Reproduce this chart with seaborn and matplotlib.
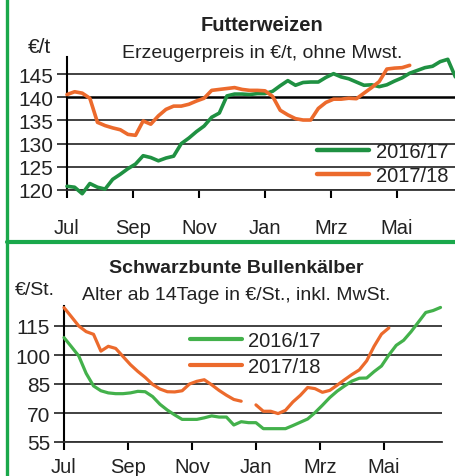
import numpy as np
import pandas as pd
import seaborn as sns
import matplotlib.pyplot as plt
from matplotlib.lines import Line2D

sns.set_theme(style='white')
plt.rcParams['font.family'] = ['Liberation Sans', 'DejaVu Sans']

# month labels and where they sit on the week axis (weeks since 1 July)
months = ['Jul', 'Sep', 'Nov', 'Jan', 'Mrz', 'Mai']
month_weeks = [0, 8.67, 17.33, 26, 34.67, 43.33]
seasons = ['2016/17', '2017/18']

# Futterweizen, Erzeugerpreis in EUR/t (weekly)
weizen_1617 = [120.8, 120.6, 119.2, 121.4, 120.6, 120.2, 122.3, 123.4, 124.6, 125.6,
               127.4, 127.0, 126.3, 126.9, 127.3, 130.0, 131.2, 132.6, 133.8, 135.7,
               136.6, 140.3, 140.7, 140.7, 140.6, 140.8, 140.8, 141.3, 142.5, 143.6,
               142.6, 143.2, 143.3, 143.3, 144.3, 145.1, 144.4, 144.0, 143.3, 142.6,
               142.7, 142.3, 142.7, 143.5, 144.2, 145.2, 145.8, 146.4, 146.7, 147.7,
               148.2, 144.4]
weizen_1718 = [140.6, 141.2, 140.9, 139.8, 134.6, 133.9, 133.4, 133.0, 132.0, 131.8,
               134.9, 134.2, 136.0, 137.4, 138.1, 138.1, 138.5, 139.2, 139.8, 141.5,
               141.7, 141.9, 142.1, 141.7, 141.5, 141.5, 141.4, 140.2, 137.2, 136.2,
               135.4, 135.1, 135.1, 137.6, 138.9, 139.6, 139.6, 139.8, 139.7, 140.9,
               142.1, 143.4, 146.1, 146.3, 146.4, 146.9]
weizen_ticks = [120, 125, 130, 135, 140, 145]

# Schwarzbunte Bullenkaelber, EUR/St. (weekly, one missing week)
kalb_1617 = [109.0, 104.3, 99.5, 90.5, 84.0, 81.5, 80.4, 80.0, 80.0, 80.4,
             81.2, 81.0, 78.5, 74.5, 71.5, 69.0, 66.7, 66.7, 66.7, 67.5,
             68.5, 67.9, 67.9, 63.8, 65.5, 65.0, 65.0, 61.9, 61.9, 61.9,
             61.9, 63.5, 65.2, 66.9, 70.2, 74.0, 78.0, 81.3, 84.0, 86.5,
             88.0, 88.1, 91.4, 94.3, 100.0, 105.0, 107.6, 112.0, 117.0, 122.0,
             123.0, 124.6]
kalb_1718 = [124.5, 119.8, 115.0, 112.1, 110.7, 102.0, 104.5, 103.4, 99.2, 95.0,
             91.5, 88.4, 84.8, 82.4, 81.0, 80.9, 81.5, 85.0, 86.4, 87.2,
             84.6, 81.7, 79.2, 77.0, 76.1, np.nan, 74.2, 70.9, 70.9, 69.7,
             71.4, 75.7, 79.1, 83.2, 82.6, 80.7, 81.7, 84.4, 87.2, 89.9,
             92.3, 97.0, 104.5, 110.8, 114.0]
kalb_ticks = [55, 70, 85, 100, 115]

ORANGE = '#ec6a2c'
GREEN_DARK = '#1f9142'
GREEN_LIGHT = '#43b14b'
FRAME = '#1aa84b'
TEXT = '#222222'


def to_long(values_by_season):
    parts = []
    for name, vals in values_by_season.items():
        d = pd.DataFrame({'Woche': np.arange(len(vals)), 'Preis': vals})
        d['Saison'] = name
        # a gap in the data starts a new line segment
        d['Abschnitt'] = d['Preis'].isna().cumsum()
        parts.append(d.dropna())
    return pd.concat(parts, ignore_index=True)


def draw_panel(ax, df, palette, ticks, ylim, xlim, lw, xpad, ypad, strong=None):
    sns.lineplot(data=df, x='Woche', y='Preis', hue='Saison', units='Abschnitt',
                 estimator=None, palette=palette, linewidth=lw, legend=False,
                 ax=ax, clip_on=False, zorder=3)
    ax.set_xlim(*xlim)
    ax.set_ylim(*ylim)
    ax.set_xticks(month_weeks, months, fontsize=14.5, color=TEXT)
    ax.set_yticks(ticks, [str(t) for t in ticks], fontsize=15, color=TEXT)
    ax.set_xlabel('')
    ax.set_ylabel('')
    ax.set_axisbelow(True)
    ax.yaxis.grid(True, color='#333333', linewidth=1.3)
    ax.xaxis.grid(False)
    if strong is not None:
        g = ax.get_ygridlines()[ticks.index(strong)]
        g.set_color('black')
        g.set_linewidth(1.8)
    for s in ['top', 'right']:
        ax.spines[s].set_visible(False)
    ax.spines['left'].set_color('black')
    ax.spines['left'].set_linewidth(1.5)
    ax.spines['bottom'].set_color('#333333')
    ax.spines['bottom'].set_linewidth(1.3)
    ax.tick_params(axis='y', left=True, length=7, width=1.3, color='#333333', pad=ypad)
    ax.tick_params(axis='x', bottom=True, length=6, width=1.5, color='black', pad=xpad)
    ax.patch.set_alpha(0)


fig = plt.figure(figsize=(4.56, 4.77), dpi=100)
fig.patch.set_facecolor('white')

# --- Futterweizen ---
ax1 = fig.add_axes([67 / 456, 286 / 477, 389 / 456, 133 / 477])
draw_panel(ax1, to_long({seasons[0]: weizen_1617, seasons[1]: weizen_1718}),
           [GREEN_DARK, ORANGE], weizen_ticks, (120, 148.7), (0, 51.08),
           lw=2.6, xpad=14, ypad=3, strong=140)
h1 = [Line2D([0], [0], color=c, lw=3.2, solid_capstyle='round') for c in [GREEN_DARK, ORANGE]]
ax1.legend(h1, seasons, loc='upper left', bbox_to_anchor=(317 / 456, 334 / 477),
           bbox_transform=fig.transFigure, frameon=False, borderpad=0, borderaxespad=0,
           handlelength=2.6, handletextpad=0.35, labelspacing=0.25,
           prop={'size': 14.5}, labelcolor=TEXT)

fig.text(262 / 456, 446 / 477, 'Futterweizen', ha='center', va='baseline',
         fontsize=14.5, fontweight='bold', color=TEXT)
fig.text(262 / 456, 419 / 477, 'Erzeugerpreis in €/t, ohne Mwst.', ha='center',
         va='baseline', fontsize=14, color=TEXT)
fig.text(28 / 456, 424 / 477, '€/t', ha='left', va='baseline', fontsize=15,
         color=TEXT)

# --- Schwarzbunte Bullenkaelber ---
ax2 = fig.add_axes([64 / 456, 34 / 477, 378 / 456, 136.3 / 477])
draw_panel(ax2, to_long({seasons[0]: kalb_1617, seasons[1]: kalb_1718}),
           [GREEN_LIGHT, ORANGE], kalb_ticks, (55, 125.5), (0, 51.2),
           lw=2.3, xpad=5, ypad=3)
h2 = [Line2D([0], [0], color=c, lw=3.0, solid_capstyle='round') for c in [GREEN_LIGHT, ORANGE]]
ax2.legend(h2, seasons, loc='upper left', bbox_to_anchor=(190 / 456, 145 / 477),
           bbox_transform=fig.transFigure, frameon=False, borderpad=0, borderaxespad=0,
           handlelength=2.6, handletextpad=0.3, labelspacing=0.35,
           prop={'size': 14.5}, labelcolor=TEXT)

fig.text(236 / 456, 204 / 477, 'Schwarzbunte Bullenkälber', ha='center', va='baseline',
         fontsize=14, fontweight='bold', color=TEXT)
fig.text(236 / 456, 177 / 477, 'Alter ab 14Tage in €/St., inkl. MwSt.', ha='center',
         va='baseline', fontsize=14, color=TEXT)
fig.text(15 / 456, 182 / 477, '€/St.', ha='left', va='baseline', fontsize=14,
         color=TEXT)

# green frame of the page layout
fig.add_artist(Line2D([7.5 / 456, 7.5 / 456], [0, 1], color=FRAME, lw=2.4,
                      transform=fig.transFigure))
fig.add_artist(Line2D([7.5 / 456, 1], [234.5 / 477, 234.5 / 477], color=FRAME, lw=3,
                      transform=fig.transFigure))

fig.savefig('out.png', dpi=100, facecolor='white')
